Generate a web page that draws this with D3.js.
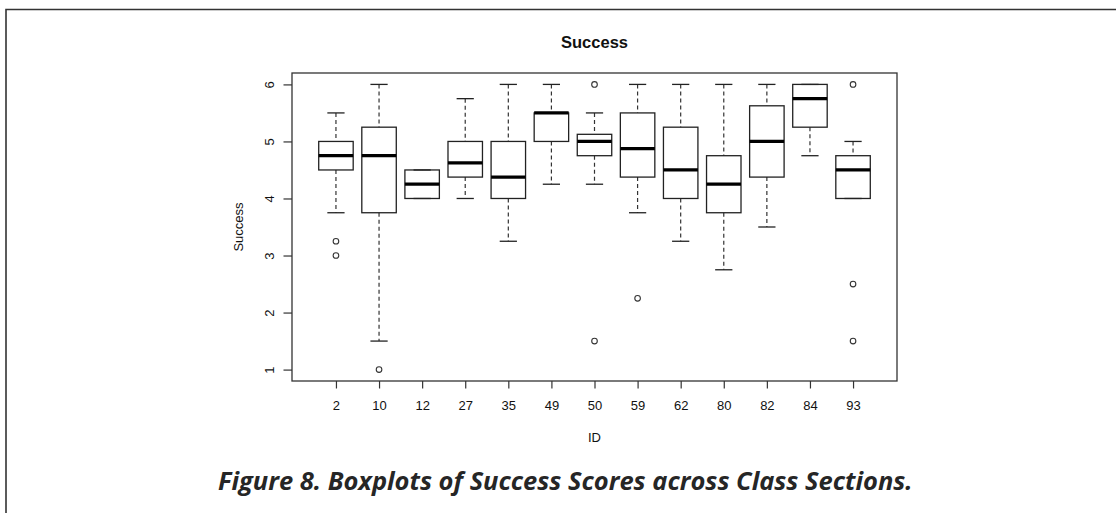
<!DOCTYPE html>
<html lang="en">
    <head>
        <meta charset="UTF-8" />
        <title>Success boxplots</title>
        <script src="https://d3js.org/d3.v7.min.js"></script>
        <style>
            body {
                margin: 0;
                background: #fff;
            }
            .tick-label {
                font-family: "Liberation Sans", Arial, sans-serif;
                font-size: 13px;
                fill: #111;
            }
            .box {
                fill: none;
                stroke: #222;
                stroke-width: 1.3px;
            }
        </style>
    </head>
    <body>
        <div id="chart"></div>
        <script>
            const width = 1116,
                height = 513;

            // Class section IDs and five-number summaries
            const ids = ["2", "10", "12", "27", "35", "49", "50", "59", "62", "80", "82", "84", "93"];
            const lowerWhisker = [3.75, 1.5, 4.0, 4.0, 3.25, 4.25, 4.25, 3.75, 3.25, 2.75, 3.5, 4.75, 4.0];
            const q1 = [4.5, 3.75, 4.0, 4.375, 4.0, 5.0, 4.75, 4.375, 4.0, 3.75, 4.375, 5.25, 4.0];
            const median = [4.75, 4.75, 4.25, 4.625, 4.375, 5.5, 5.0, 4.875, 4.5, 4.25, 5.0, 5.75, 4.5];
            const q3 = [5.0, 5.25, 4.5, 5.0, 5.0, 5.5, 5.125, 5.5, 5.25, 4.75, 5.625, 6.0, 4.75];
            const upperWhisker = [5.5, 6.0, 4.5, 5.75, 6.0, 6.0, 5.5, 6.0, 6.0, 6.0, 6.0, 6.0, 5.0];
            const outliers = [[3.25, 3.0], [1.0], [], [], [], [], [6.0, 1.5], [2.25], [], [], [], [], [6.0, 2.5, 1.5]];
            const yTicks = [1, 2, 3, 4, 5, 6];

            const plot = { left: 292, right: 897, top: 73, bottom: 381 };

            const svg = d3
                .select("#chart")
                .append("svg")
                .attr("width", width)
                .attr("height", height);

            // outer figure frame (top and left edges only show)
            svg.append("path")
                .attr("d", `M6,${height} V9.5 H${width}`)
                .attr("fill", "none")
                .attr("stroke", "#333")
                .attr("stroke-width", 1.6);

            // R-style scales: 4% padding around the data range
            const x = d3
                .scaleLinear()
                .domain([0.5 - 0.52, ids.length + 0.5 + 0.52])
                .range([plot.left, plot.right]);
            const y = d3
                .scaleLinear()
                .domain([0.8, 6.2])
                .range([plot.bottom, plot.top]);

            const boxW = (x(1) - x(0)) * 0.8;
            const stapleW = boxW / 2;

            const data = ids.map((id, i) => ({
                id,
                pos: i + 1,
                lo: lowerWhisker[i],
                q1: q1[i],
                med: median[i],
                q3: q3[i],
                hi: upperWhisker[i],
                out: outliers[i],
            }));

            const g = svg.selectAll(".bp").data(data).enter().append("g").attr("class", "bp");

            // whiskers
            g.append("line")
                .attr("x1", (d) => x(d.pos))
                .attr("x2", (d) => x(d.pos))
                .attr("y1", (d) => y(d.hi))
                .attr("y2", (d) => y(d.q3))
                .attr("stroke", "#333")
                .attr("stroke-width", 1.2)
                .attr("stroke-dasharray", "4,3");
            g.append("line")
                .attr("x1", (d) => x(d.pos))
                .attr("x2", (d) => x(d.pos))
                .attr("y1", (d) => y(d.q1))
                .attr("y2", (d) => y(d.lo))
                .attr("stroke", "#333")
                .attr("stroke-width", 1.2)
                .attr("stroke-dasharray", "4,3");

            // staples
            g.append("line")
                .attr("x1", (d) => x(d.pos) - stapleW / 2)
                .attr("x2", (d) => x(d.pos) + stapleW / 2)
                .attr("y1", (d) => y(d.hi))
                .attr("y2", (d) => y(d.hi))
                .attr("stroke", "#222")
                .attr("stroke-width", 1.3);
            g.append("line")
                .attr("x1", (d) => x(d.pos) - stapleW / 2)
                .attr("x2", (d) => x(d.pos) + stapleW / 2)
                .attr("y1", (d) => y(d.lo))
                .attr("y2", (d) => y(d.lo))
                .attr("stroke", "#222")
                .attr("stroke-width", 1.3);

            // boxes
            g.append("rect")
                .attr("class", "box")
                .attr("x", (d) => x(d.pos) - boxW / 2)
                .attr("width", boxW)
                .attr("y", (d) => y(d.q3))
                .attr("height", (d) => y(d.q1) - y(d.q3))
                .attr("fill", "#fff");

            // medians
            g.append("line")
                .attr("x1", (d) => x(d.pos) - boxW / 2)
                .attr("x2", (d) => x(d.pos) + boxW / 2)
                .attr("y1", (d) => y(d.med))
                .attr("y2", (d) => y(d.med))
                .attr("stroke", "#000")
                .attr("stroke-width", 3.2);

            // outliers
            g.selectAll("circle")
                .data((d) => d.out.map((v) => ({ pos: d.pos, v })))
                .enter()
                .append("circle")
                .attr("cx", (d) => x(d.pos))
                .attr("cy", (d) => y(d.v))
                .attr("r", 2.8)
                .attr("fill", "none")
                .attr("stroke", "#333")
                .attr("stroke-width", 1.1);

            // plot frame
            svg.append("rect")
                .attr("x", plot.left)
                .attr("y", plot.top)
                .attr("width", plot.right - plot.left)
                .attr("height", plot.bottom - plot.top)
                .attr("fill", "none")
                .attr("stroke", "#333")
                .attr("stroke-width", 1.3);

            // y axis
            const yAxis = svg
                .append("g")
                .attr("transform", `translate(${plot.left},0)`)
                .call(d3.axisLeft(y).tickValues(yTicks).tickSize(8.5).tickFormat(d3.format("d")));
            yAxis.select(".domain").remove();
            yAxis.selectAll(".tick line").attr("stroke", "#333").attr("stroke-width", 1.2);
            yAxis.selectAll(".tick text")
                .attr("class", "tick-label")
                .attr("x", null)
                .attr("dy", null)
                .attr("text-anchor", "middle")
                .attr("dominant-baseline", "central")
                .attr("transform", "translate(-23,0) rotate(-90)");

            // x axis
            const xAxis = svg
                .append("g")
                .attr("transform", `translate(0,${plot.bottom})`)
                .call(
                    d3.axisBottom(x)
                        .tickValues(d3.range(1, ids.length + 1))
                        .tickSize(7.5)
                        .tickFormat((d) => ids[d - 1]),
                );
            xAxis.select(".domain").remove();
            xAxis.selectAll(".tick line").attr("stroke", "#333").attr("stroke-width", 1.2);
            xAxis.selectAll(".tick text")
                .attr("class", "tick-label")
                .attr("y", 24)
                .attr("dy", null)
                .attr("dominant-baseline", "central");

            // titles
            const cx = (plot.left + plot.right) / 2;
            svg.append("text")
                .attr("x", cx)
                .attr("y", 42)
                .attr("text-anchor", "middle")
                .attr("dominant-baseline", "central")
                .style("font-family", "'Liberation Sans', Arial, sans-serif")
                .style("font-weight", "bold")
                .style("font-size", "16.5px")
                .style("fill", "#111")
                .text("Success");

            svg.append("text")
                .attr("class", "tick-label")
                .attr("transform", `translate(238,${(plot.top + plot.bottom) / 2}) rotate(-90)`)
                .attr("text-anchor", "middle")
                .attr("dominant-baseline", "central")
                .text("Success");

            svg.append("text")
                .attr("class", "tick-label")
                .attr("x", cx)
                .attr("y", 437)
                .attr("text-anchor", "middle")
                .attr("dominant-baseline", "central")
                .text("ID");

            // figure caption, sized to span the same width as the original
            const caption = svg
                .append("text")
                .attr("x", 218)
                .attr("y", 489.5)
                .style("font-family", "'Open Sans', sans-serif")
                .style("font-weight", "bold")
                .style("font-style", "italic")
                .style("font-size", "22px")
                .style("fill", "#262626")
                .text("Figure 8. Boxplots of Success Scores across Class Sections.");
            const len = caption.node().getComputedTextLength();
            caption.style("font-size", (22 * 695) / len + "px");
        </script>
    </body>
</html>
